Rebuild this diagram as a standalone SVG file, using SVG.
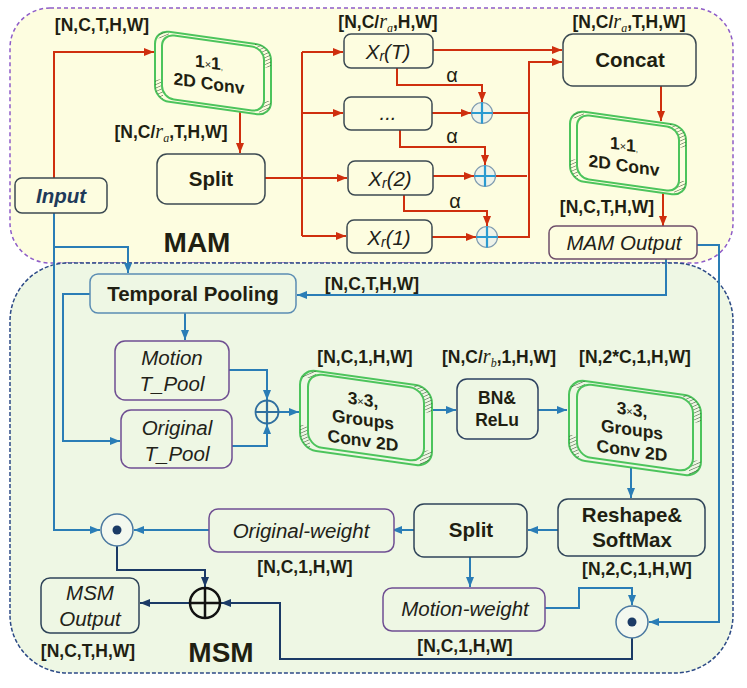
<svg xmlns="http://www.w3.org/2000/svg" width="747" height="688" viewBox="0 0 747 688">
<style>
.t{font-family:"Liberation Sans",Arial,sans-serif;fill:#1f1f12}
.lbl{font-family:"Liberation Sans",Arial,sans-serif;font-weight:bold;font-size:17.5px;fill:#1f1f12;text-anchor:middle}
.nb{font-family:"Liberation Sans",Arial,sans-serif;font-weight:bold;font-size:20.5px;fill:#1f1f12;text-anchor:middle}
.ni{font-family:"Liberation Sans",Arial,sans-serif;font-style:italic;font-size:20.5px;fill:#222218;text-anchor:middle}
.cv{font-family:"Liberation Sans",Arial,sans-serif;font-weight:bold;font-size:17.5px;fill:#1f1f12;text-anchor:middle}
.m{font-family:"Liberation Serif",serif;font-style:italic;font-weight:normal}
.red{fill:none;stroke:#cf2f0e;stroke-width:2}
.blue{fill:none;stroke:#2a7db6;stroke-width:2}
.navy{fill:none;stroke:#1b3a66;stroke-width:2}
.mamn{fill:#fdfde0;stroke:#3c4a52;stroke-width:1.5}
.msmn{fill:#eef7e4;stroke:#2f4459;stroke-width:1.5}
.pur{fill:#eef7e4;stroke:#6f4f92;stroke-width:1.5}
.grn{stroke:#4cc45c;stroke-width:2}
</style>
<defs>
<marker id="ar" markerWidth="10" markerHeight="8" refX="10" refY="4" orient="auto" markerUnits="userSpaceOnUse"><path d="M0,0 L10,4 L0,8 z" fill="#cf2f0e"/></marker>
<marker id="ab" markerWidth="10" markerHeight="8" refX="10" refY="4" orient="auto" markerUnits="userSpaceOnUse"><path d="M0,0 L10,4 L0,8 z" fill="#2a7db6"/></marker>
<marker id="an" markerWidth="10" markerHeight="8" refX="10" refY="4" orient="auto" markerUnits="userSpaceOnUse"><path d="M0,0 L10,4 L0,8 z" fill="#1b3a66"/></marker>
<pattern id="hatch" width="3" height="3" patternUnits="userSpaceOnUse" patternTransform="rotate(60)"><line x1="0" y1="0" x2="0" y2="3" stroke="#2e4a2a" stroke-width="0.9"/></pattern>
<clipPath id="cornS"><rect x="-60" y="-37" width="16" height="10"/><rect x="-60" y="14" width="10" height="23"/><rect x="42" y="-37" width="18" height="24"/><rect x="46" y="20" width="14" height="17"/></clipPath>
<clipPath id="cornL"><rect x="-68" y="-42" width="18" height="10"/><rect x="-68" y="16" width="12" height="26"/><rect x="48" y="-42" width="20" height="28"/><rect x="54" y="24" width="14" height="18"/></clipPath>
<g id="convS">
<rect x="-58" y="-35" width="116" height="70" rx="14" class="grn"/>
<rect x="-58" y="-35" width="116" height="70" rx="14" fill="url(#hatch)" clip-path="url(#cornS)"/>
<rect x="-51" y="-32" width="102" height="64" rx="12" class="grn"/>
</g>
<g id="convL">
<rect x="-66" y="-40" width="132" height="80" rx="16" class="grn"/>
<rect x="-66" y="-40" width="132" height="80" rx="16" fill="url(#hatch)" clip-path="url(#cornL)"/>
<rect x="-58" y="-37" width="116" height="73" rx="14" class="grn"/>
</g>
<g id="plusB">
<circle r="10.5" fill="#eef3ea" stroke="#7f9bb0" stroke-width="1.2"/>
<path d="M-10.5,0 H10.5 M0,-10.5 V10.5" stroke="#2a9ad0" stroke-width="2.2"/>
</g>
<g id="dotC">
<circle r="16" fill="#f3f8ef" stroke="#4a78a0" stroke-width="1.5"/>
<circle r="4.5" fill="#1b3a66"/>
</g>
</defs>

<g id="regions">
<rect x="10" y="8" width="723" height="255" rx="40" fill="#fdfde0" stroke="#8e5cc8" stroke-width="1.5" stroke-dasharray="4 3"/>
<rect x="10" y="263" width="723" height="410" rx="58" fill="#eef7e4" stroke="#2c4a86" stroke-width="1.5" stroke-dasharray="4 2"/>
<text class="t" x="197" y="252" font-size="28" font-weight="bold" text-anchor="middle">MAM</text>
<text class="t" x="221" y="662" font-size="28" font-weight="bold" text-anchor="middle">MSM</text>
</g>

<g id="connectors">
<path class="red" d="M54,178 V52 H154" marker-end="url(#ar)"/>
<path class="red" d="M240,112 V153" marker-end="url(#ar)"/>
<path class="red" d="M265,178 H302 M302,52 V236"/>
<path class="red" d="M302,52 H343" marker-end="url(#ar)"/>
<path class="red" d="M302,113 H343" marker-end="url(#ar)"/>
<path class="red" d="M302,178 H347" marker-end="url(#ar)"/>
<path class="red" d="M302,236 H346" marker-end="url(#ar)"/>
<path class="red" d="M433,50 H562" marker-end="url(#ar)"/>
<path class="red" d="M397,68 V85 H482 V102" marker-end="url(#ar)"/>
<path class="red" d="M400,130 V147 H485 V165" marker-end="url(#ar)"/>
<path class="red" d="M404,195 V211 H487 V226" marker-end="url(#ar)"/>
<path class="red" d="M432,113 H471" marker-end="url(#ar)"/>
<path class="red" d="M433,176 H474" marker-end="url(#ar)"/>
<path class="red" d="M432,237 H476" marker-end="url(#ar)"/>
<path class="red" d="M493,113 H529 M496,176 H527"/>
<path class="red" d="M498,237 H529 V62 H562" marker-end="url(#ar)"/>
<path class="red" d="M661,86 V121" marker-end="url(#ar)"/>
<path class="red" d="M663,193 V226" marker-end="url(#ar)"/>

<path class="blue" d="M697,245 H719 V622 H649" marker-end="url(#ab)"/>
<path class="blue" d="M666,259 V295 H297" marker-end="url(#ab)"/>
<path class="blue" d="M54,213 V530 H100" marker-end="url(#ab)"/>
<path class="blue" d="M54,247 H128 V273" marker-end="url(#ab)"/>
<path class="blue" d="M90,294 H63 V441 H120" marker-end="url(#ab)"/>
<path class="blue" d="M185,313 V340" marker-end="url(#ab)"/>
<path class="blue" d="M229,370 H267 V400" marker-end="url(#ab)"/>
<path class="blue" d="M232,446 H267 V424" marker-end="url(#ab)"/>
<path class="blue" d="M279,412 H299" marker-end="url(#ab)"/>
<path class="blue" d="M432,410 H456" marker-end="url(#ab)"/>
<path class="blue" d="M538,410 H567" marker-end="url(#ab)"/>
<path class="blue" d="M631,465 V498" marker-end="url(#ab)"/>
<path class="blue" d="M558,530 H528" marker-end="url(#ab)"/>
<path class="blue" d="M414,530 H392" marker-end="url(#ab)"/>
<path class="blue" d="M209,530 H134" marker-end="url(#ab)"/>
<path class="blue" d="M470,557 V587" marker-end="url(#ab)"/>
<path class="blue" d="M545,608 H579 V588 H632 V605" marker-end="url(#ab)"/>

<path class="navy" d="M632,638 V659 H280 V603 H221" marker-end="url(#an)"/>
<path class="navy" d="M117,546 V570 H205 V587" marker-end="url(#an)"/>
<path class="navy" d="M190,603 H140" marker-end="url(#an)"/>
</g>

<g id="labels">
<text class="lbl" x="102" y="31">[N,C,T,H,W]</text>
<text class="lbl" x="171" y="138">[N,C/<tspan class="m" font-size="20">r</tspan><tspan class="m" font-size="12" dy="4">a</tspan><tspan dy="-4">,T,H,W]</tspan></text>
<text class="lbl" x="388" y="28">[N,C/<tspan class="m" font-size="20">r</tspan><tspan class="m" font-size="12" dy="4">a</tspan><tspan dy="-4">,H,W]</tspan></text>
<text class="lbl" x="629" y="28">[N,C/<tspan class="m" font-size="20">r</tspan><tspan class="m" font-size="12" dy="4">a</tspan><tspan dy="-4">,T,H,W]</tspan></text>
<text class="lbl" x="607" y="213">[N,C,T,H,W]</text>
<text class="lbl" x="372" y="290">[N,C,T,H,W]</text>
<text class="lbl" x="365" y="363">[N,C,1,H,W]</text>
<text class="lbl" x="499" y="363">[N,C/<tspan class="m" font-size="20">r</tspan><tspan class="m" font-size="12" dy="4">b</tspan><tspan dy="-4">,1,H,W]</tspan></text>
<text class="lbl" x="635" y="363">[N,2*C,1,H,W]</text>
<text class="lbl" x="637" y="575">[N,2,C,1,H,W]</text>
<text class="lbl" x="305" y="573">[N,C,1,H,W]</text>
<text class="lbl" x="465" y="652">[N,C,1,H,W]</text>
<text class="lbl" x="88" y="657">[N,C,T,H,W]</text>
<text class="t" x="452" y="82" font-size="20" text-anchor="middle">α</text>
<text class="t" x="452" y="143" font-size="20" text-anchor="middle">α</text>
<text class="t" x="455" y="208" font-size="20" text-anchor="middle">α</text>
</g>

<g id="input"><rect x="15" y="178" width="92" height="35" rx="7" class="mamn"/><text x="61" y="203" font-family="Liberation Sans, Arial, sans-serif" font-size="20.5" font-weight="bold" font-style="italic" fill="#1f3a5a" text-anchor="middle">Input</text></g>

<g id="conv1" transform="translate(213,73) skewY(8)"><use href="#convS" fill="#fdfde0"/><text class="cv" x="-4" y="-4">1<tspan font-size="11" font-weight="normal">×</tspan>1<tspan font-size="8" font-weight="normal">,</tspan></text><text class="cv" x="-4" y="17">2D Conv</text></g>

<g id="split1"><rect x="157" y="154" width="108" height="50" rx="10" class="mamn"/><text class="nb" x="211" y="186">Split</text></g>

<g id="xrT"><rect x="344" y="34" width="89" height="34" rx="7" class="mamn"/><text class="ni" x="388" y="59">X<tspan font-size="14" dy="2">r</tspan><tspan dy="-2">(T)</tspan></text></g>
<g id="xrDots"><rect x="344" y="97" width="88" height="33" rx="7" class="mamn"/><text class="ni" x="388" y="120">...</text></g>
<g id="xr2"><rect x="348" y="161" width="85" height="34" rx="7" class="mamn"/><text class="ni" x="390" y="186">X<tspan font-size="14" dy="2">r</tspan><tspan dy="-2">(2)</tspan></text></g>
<g id="xr1"><rect x="347" y="220" width="85" height="33" rx="7" class="mamn"/><text class="ni" x="389" y="245">X<tspan font-size="14" dy="2">r</tspan><tspan dy="-2">(1)</tspan></text></g>

<g id="plus1" transform="translate(482,113)"><use href="#plusB"/></g>
<g id="plus2" transform="translate(485,176)"><use href="#plusB"/></g>
<g id="plus3" transform="translate(487,237)"><use href="#plusB"/></g>

<g id="concat"><rect x="563" y="34" width="133" height="52" rx="10" class="mamn"/><text class="nb" x="630" y="67">Concat</text></g>

<g id="conv2" transform="translate(628,153) skewY(8)"><use href="#convS" fill="#fdfde0"/><text class="cv" x="-4" y="-2">1<tspan font-size="11" font-weight="normal">×</tspan>1<tspan font-size="8" font-weight="normal">,</tspan></text><text class="cv" x="-4" y="19">2D Conv</text></g>

<g id="mamOutput"><rect x="549" y="226" width="148" height="33" rx="7" fill="#fdfde0" stroke="#6e4e6a" stroke-width="1.5"/><text class="ni" x="624" y="250" fill="#333">MAM Output</text></g>

<g id="temporalPooling"><rect x="90" y="274" width="206" height="39" rx="8" fill="#eef7e4" stroke="#5b8db3" stroke-width="1.5"/><text class="nb" x="193" y="301">Temporal Pooling</text></g>

<g id="motionTPool"><rect x="115" y="341" width="114" height="59" rx="10" class="pur"/><text class="ni" x="172" y="365">Motion</text><text class="ni" x="172" y="391">T_Pool</text></g>
<g id="originalTPool"><rect x="121" y="410" width="111" height="58" rx="10" class="pur"/><text class="ni" x="177" y="435">Original</text><text class="ni" x="177" y="461">T_Pool</text></g>

<g id="plusMSM" transform="translate(267,412)"><circle r="11.5" fill="#eef7e4" stroke="#2f6f9f" stroke-width="1.8"/><path d="M-11.5,0 H11.5 M0,-11.5 V11.5" stroke="#2f6f9f" stroke-width="2.2"/></g>

<g id="conv3" transform="translate(366,418) skewY(8)"><use href="#convL" fill="#eef7e4"/><text class="cv" x="-3" y="-12">3<tspan font-size="11" font-weight="normal">×</tspan>3,</text><text class="cv" x="-3" y="8">Groups</text><text class="cv" x="-3" y="29">Conv 2D</text></g>

<g id="bnRelu"><rect x="457" y="379" width="81" height="60" rx="10" fill="#eef7e4" stroke="#2d4260" stroke-width="1.5"/><text class="t" x="497" y="404" font-size="17.5" font-weight="bold" text-anchor="middle">BN&amp;</text><text class="t" x="497" y="426" font-size="17.5" font-weight="bold" text-anchor="middle">ReLu</text></g>

<g id="conv4" transform="translate(635,428) skewY(8)"><use href="#convL" fill="#eef7e4"/><text class="cv" x="-3" y="-12">3<tspan font-size="11" font-weight="normal">×</tspan>3,</text><text class="cv" x="-3" y="8">Groups</text><text class="cv" x="-3" y="29">Conv 2D</text></g>

<g id="reshapeSoftmax"><rect x="558" y="499" width="147" height="57" rx="10" class="msmn"/><text class="nb" x="632" y="522">Reshape&amp;</text><text class="nb" x="632" y="547">SoftMax</text></g>

<g id="split2"><rect x="414" y="504" width="113" height="53" rx="10" class="msmn"/><text class="nb" x="471" y="537">Split</text></g>

<g id="originalWeight"><rect x="209" y="509" width="185" height="43" rx="9" class="pur"/><text class="ni" x="301" y="538">Original-weight</text></g>

<g id="motionWeight"><rect x="383" y="588" width="162" height="43" rx="9" class="pur"/><text class="ni" x="465" y="616">Motion-weight</text></g>

<g id="dot1" transform="translate(117,530)"><use href="#dotC"/></g>
<g id="dot2" transform="translate(632,622)"><use href="#dotC"/></g>

<g id="plusBig" transform="translate(205,603)"><circle r="15" fill="#eef7e4" stroke="#111" stroke-width="2.5"/><path d="M-15,0 H15 M0,-15 V15" stroke="#111" stroke-width="2.5"/></g>

<g id="msmOutput"><rect x="41" y="578" width="98" height="55" rx="9" class="msmn"/><text class="ni" x="90" y="600">MSM</text><text class="ni" x="90" y="626">Output</text></g>
</svg>
